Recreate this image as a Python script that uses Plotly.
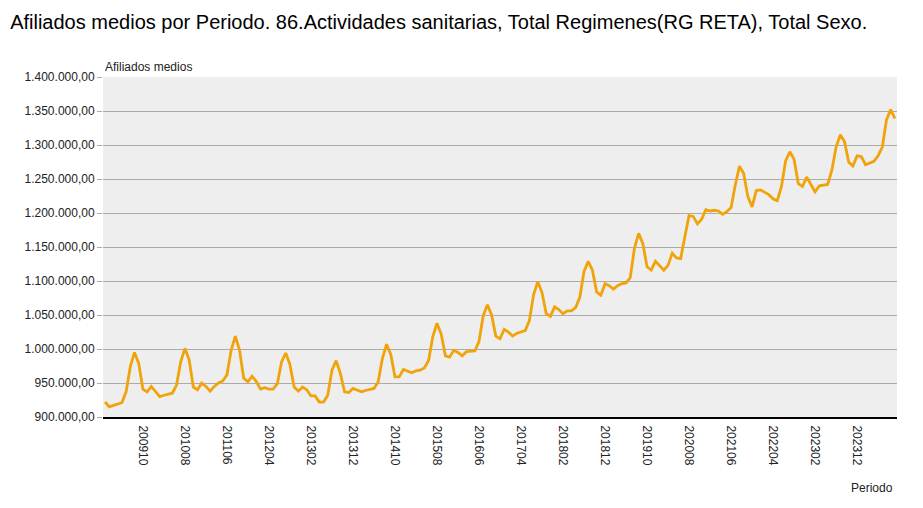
import plotly.graph_objects as go

periods = [f"{y}{m:02d}" for y in range(2009, 2025) for m in range(1, 13)][:189]

afiliados_miles = [
    922, 915, 917, 919, 921, 937, 974, 995, 979, 941, 937, 945,
    937, 930, 932, 933, 935, 947, 981, 1001, 984, 944, 940, 950,
    945, 938, 945, 950, 953, 962, 998, 1019, 998, 957, 952, 960,
    952, 941, 943, 941, 941, 949, 981, 994, 977, 944, 938, 944,
    940, 931, 931, 922, 922, 932, 969, 983, 964, 937, 936, 942,
    940, 937, 939, 941, 942, 952, 986, 1007, 992, 959, 959, 970,
    968, 965, 968, 969, 972, 983, 1018, 1038, 1022, 990, 988, 998,
    995, 990, 996, 997, 997, 1011, 1049, 1065, 1050, 1019, 1015, 1029,
    1025, 1019, 1023, 1025, 1027, 1042, 1080, 1099, 1083, 1052, 1048, 1062,
    1058, 1052, 1056, 1056, 1061, 1076, 1114, 1129, 1116, 1084, 1079, 1096,
    1093, 1088, 1093, 1096, 1097, 1105, 1148, 1170, 1155, 1121, 1116, 1129,
    1123, 1116, 1123, 1141, 1134, 1133, 1165, 1196, 1195, 1184, 1191, 1205,
    1203, 1204, 1203, 1198, 1202, 1208, 1241, 1269, 1258, 1224, 1209, 1233,
    1234, 1231, 1227, 1221, 1218, 1239, 1277, 1290, 1279, 1243, 1239, 1253,
    1243, 1231, 1240, 1241, 1242, 1263, 1297, 1315, 1305, 1275, 1269, 1284,
    1283, 1271, 1274, 1276, 1284, 1297, 1337, 1352, 1339,
]
afiliados = [v * 1000 for v in afiliados_miles]

tick_labels = periods[9::10]
y_ticks = [900000, 950000, 1000000, 1050000, 1100000, 1150000, 1200000,
           1250000, 1300000, 1350000, 1400000]

title_text = ("Afiliados medios por Periodo. 86.Actividades sanitarias, "
              "Total Regimenes(RG RETA), Total Sexo.")

fig = go.Figure()
fig.add_trace(go.Scatter(
    x=periods, y=afiliados, mode="lines",
    line=dict(color="#F0A30A", width=2.8),
    hoverinfo="x+y",
))

fig.update_layout(
    width=923, height=508,
    margin=dict(l=103, r=26, t=77, b=91),
    paper_bgcolor="white",
    plot_bgcolor="#EEEEEE",
    separators=",.",
    showlegend=False,
    font=dict(family="Liberation Sans, Arial, sans-serif", size=12, color="#333333"),
    title=dict(text=title_text, x=0.011, xanchor="left", y=0.957, yanchor="middle",
               font=dict(size=20, color="#000000")),
    annotations=[
        dict(text="Afiliados medios", xref="paper", yref="paper", x=0, y=1,
             xanchor="left", yanchor="bottom", yshift=1, showarrow=False,
             font=dict(size=12, color="#222222")),
        dict(text="Periodo", xref="paper", yref="paper", x=1, y=0,
             xanchor="right", yanchor="top", yshift=-62, xshift=-2, showarrow=False,
             font=dict(size=12, color="#222222")),
    ],
)

fig.update_xaxes(
    type="category",
    range=[-0.5, 188.5],
    tickmode="array",
    tickvals=tick_labels,
    ticktext=tick_labels,
    tickangle=90,
    showgrid=False,
    showline=True, linecolor="#000000", linewidth=2,
    ticks="", ticklabelstandoff=4,
    tickfont=dict(size=12, color="#222222"),
)

fig.update_yaxes(
    range=[900000, 1400000],
    tickmode="array",
    tickvals=y_ticks,
    tickformat=",.2f",
    showgrid=True, gridcolor="#ABABAB", gridwidth=1,
    ticks="outside", ticklen=5, tickcolor="#ABABAB",
    zeroline=False,
    showline=False,
    tickfont=dict(size=12, color="#222222"),
)

fig.write_html("out.html")
